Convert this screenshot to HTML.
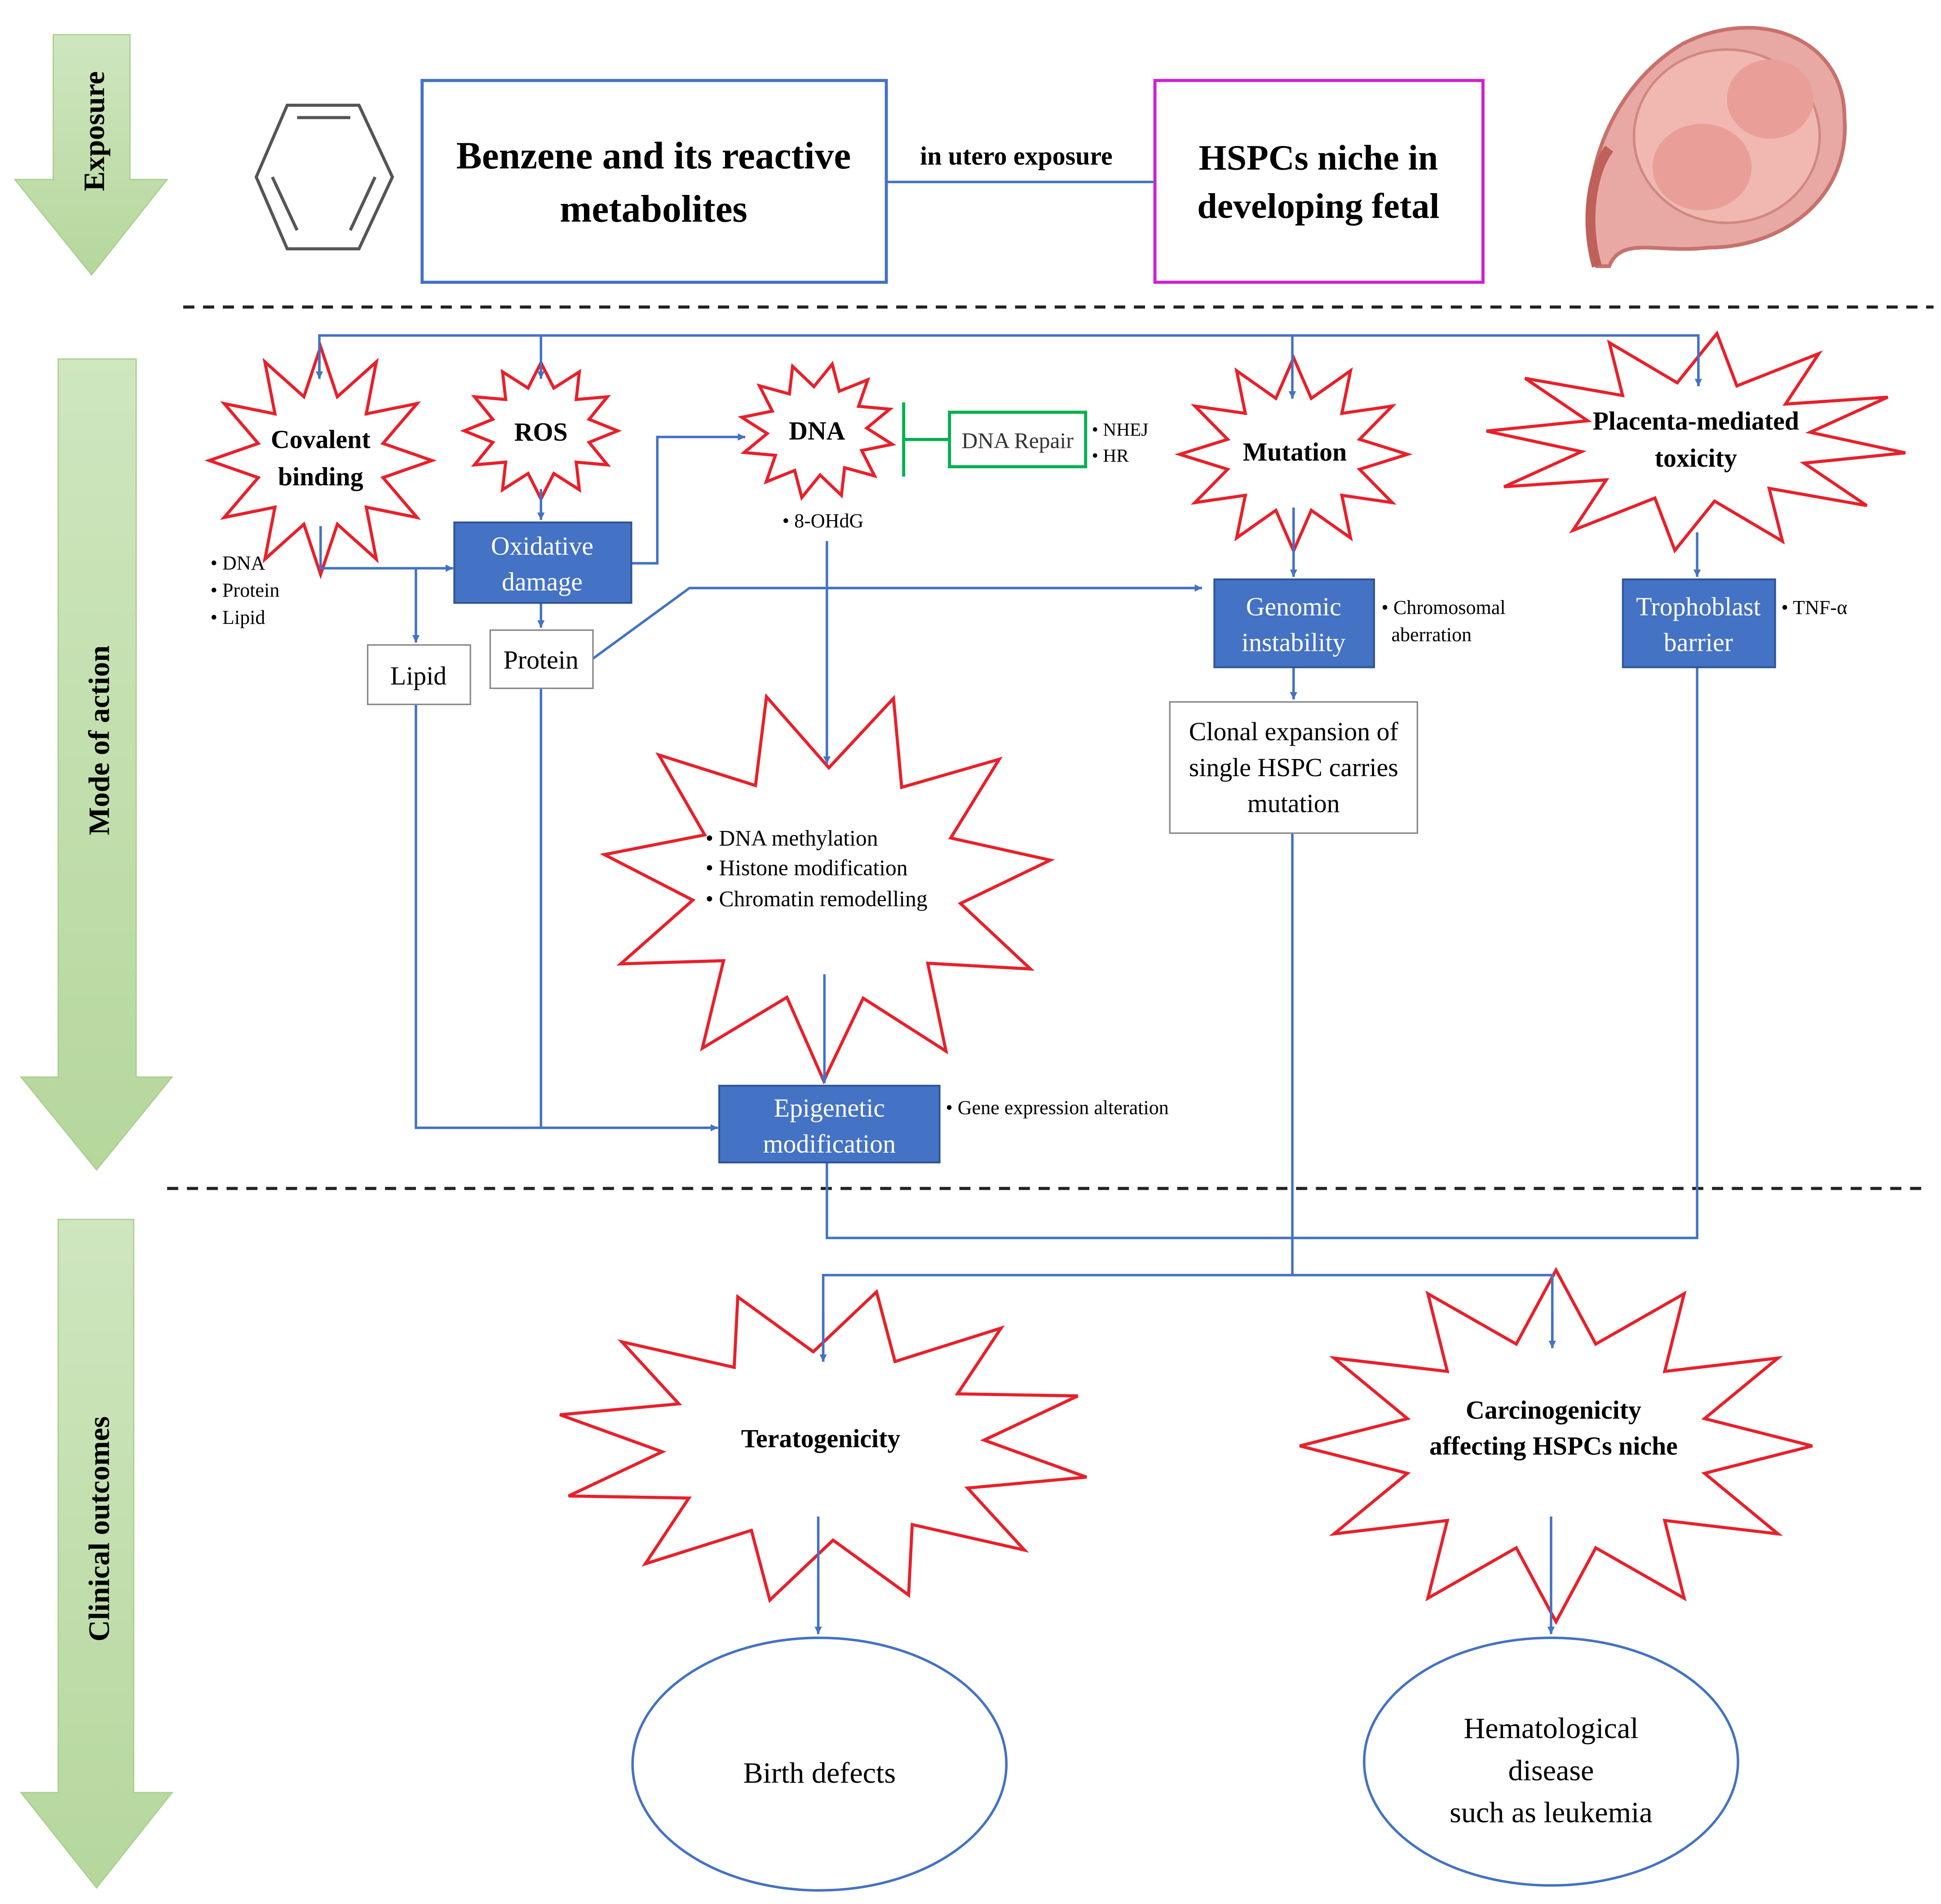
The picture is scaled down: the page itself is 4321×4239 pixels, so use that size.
<!DOCTYPE html>
<html><head><meta charset="utf-8">
<style>
html,body{margin:0;padding:0;background:#fff;}
svg{display:block;}
text{font-family:"Liberation Serif",serif;}
</style></head>
<body>
<svg id="s" width="4321" height="4239" viewBox="0 0 1568 1538" preserveAspectRatio="none" xmlns="http://www.w3.org/2000/svg">
<defs>
<linearGradient id="g" x1="0" y1="0" x2="0" y2="1">
<stop offset="0" stop-color="#cfe6bf"/><stop offset="1" stop-color="#b5d79c"/>
</linearGradient>
<marker id="a" markerWidth="8" markerHeight="8" refX="6" refY="3" orient="auto" markerUnits="userSpaceOnUse">
<path d="M0,0 L6,3 L0,6 z" fill="#4472c4"/></marker>
</defs>
<rect width="1568" height="1538" fill="#fff"/>
<polygon points="43,28 105,28 105,145 135,145 74,222 12,145 43,145" fill="url(#g)" stroke="#a9cf8f"/>
<polygon points="47,290 110,290 110,870 139,870 78,945 17,870 47,870" fill="url(#g)" stroke="#a9cf8f"/>
<polygon points="47,985 108,985 108,1448 139,1448 78,1525 17,1448 47,1448" fill="url(#g)" stroke="#a9cf8f"/>
<text transform="translate(84,106) rotate(-90)" text-anchor="middle" font-size="24" font-weight="bold">Exposure</text>
<text transform="translate(88,598) rotate(-90)" text-anchor="middle" font-size="24" font-weight="bold">Mode of action</text>
<text transform="translate(88,1235) rotate(-90)" text-anchor="middle" font-size="24" font-weight="bold">Clinical outcomes</text>
<g fill="none" stroke="#555" stroke-width="2.5">
<polygon points="232,85 290,85 317,143 290,201 232,201 207,143"/>
<line x1="240" y1="95" x2="283" y2="95"/>
<line x1="303" y1="143" x2="283" y2="186"/>
<line x1="220" y1="143" x2="240" y2="186"/>
</g>
<rect x="341" y="65" width="375" height="163" fill="none" stroke="#4472c4" stroke-width="2.5"/>
<text x="528" y="136" text-anchor="middle" font-size="31" font-weight="bold">Benzene and its reactive</text>
<text x="528" y="179" text-anchor="middle" font-size="31" font-weight="bold">metabolites</text>
<rect x="933" y="65" width="265" height="163" fill="none" stroke="#d020d0" stroke-width="2.5"/>
<text x="1065" y="137" text-anchor="middle" font-size="29" font-weight="bold">HSPCs niche in</text>
<text x="1065" y="176" text-anchor="middle" font-size="29" font-weight="bold">developing fetal</text>
<line x1="716" y1="147" x2="933" y2="147" stroke="#4472c4" stroke-width="2"/>
<text x="821" y="133" text-anchor="middle" font-size="21" font-weight="bold">in utero exposure</text>
<g>
<path d="M1290,215 C1270,150 1300,70 1360,35 C1420,5 1490,30 1490,95 C1495,160 1440,200 1380,200 C1340,205 1310,190 1300,215 Z" fill="#e8a9a4" stroke="#c8716c" stroke-width="3"/>
<ellipse cx="1395" cy="110" rx="75" ry="70" fill="#f0b8b0" stroke="#d08880" stroke-width="2"/>
<ellipse cx="1430" cy="80" rx="35" ry="32" fill="#e99f98"/>
<ellipse cx="1375" cy="135" rx="40" ry="35" fill="#e99f98"/>
<path d="M1290,215 C1280,180 1285,140 1300,120" stroke="#c0605a" stroke-width="8" fill="none"/>
</g>
<line x1="148" y1="248" x2="1562" y2="248" stroke="#222" stroke-width="2.5" stroke-dasharray="9,7"/>
<line x1="135" y1="960" x2="1552" y2="960" stroke="#222" stroke-width="2.5" stroke-dasharray="9,7"/>
<g id="stars" fill="#fff" stroke="#e8202a" stroke-width="2.5"></g>
<g stroke="#4472c4" stroke-width="2" fill="none">
<polyline points="258,305 258,271 1372,271 1372,312"/>
<line x1="258" y1="280" x2="258" y2="306" marker-end="url(#a)"/>
<line x1="437" y1="271" x2="437" y2="306" marker-end="url(#a)"/>
<line x1="1044" y1="271" x2="1044" y2="322" marker-end="url(#a)"/>
<line x1="1372" y1="280" x2="1372" y2="312" marker-end="url(#a)"/>
<polyline points="259,425 259,459 366,459" marker-end="url(#a)"/>
<line x1="437" y1="395" x2="437" y2="420" marker-end="url(#a)"/>
<polyline points="510,455 531,455 531,353 602,353" marker-end="url(#a)"/>
<line x1="437" y1="487" x2="437" y2="507" marker-end="url(#a)"/>
<line x1="336" y1="459" x2="336" y2="519" marker-end="url(#a)"/>
<polyline points="479,532 557,475 971,475" marker-end="url(#a)"/>
<line x1="668" y1="437" x2="668" y2="617" marker-end="url(#a)"/>
<line x1="666" y1="787" x2="666" y2="875" marker-end="url(#a)"/>
<polyline points="336,569 336,911 580,911" marker-end="url(#a)"/>
<line x1="437" y1="556" x2="437" y2="911"/>
<line x1="1045" y1="410" x2="1045" y2="466" marker-end="url(#a)"/>
<line x1="1045" y1="539" x2="1045" y2="565" marker-end="url(#a)"/>
<line x1="1044" y1="673" x2="1044" y2="1030"/>
<line x1="1371" y1="430" x2="1371" y2="466" marker-end="url(#a)"/>
<polyline points="1371,539 1371,1000 668,1000 668,939"/>
<polyline points="665,1099 665,1030 1254,1030 1254,1088"/>
<line x1="665" y1="1060" x2="665" y2="1100" marker-end="url(#a)"/>
<line x1="1254" y1="1060" x2="1254" y2="1089" marker-end="url(#a)"/>
<line x1="661" y1="1225" x2="661" y2="1320" marker-end="url(#a)"/>
<line x1="1253" y1="1225" x2="1253" y2="1320" marker-end="url(#a)"/>
</g>
<g stroke="#00b050" stroke-width="2.5" fill="none">
<line x1="730" y1="325" x2="730" y2="385"/>
<line x1="730" y1="355" x2="767" y2="355"/>
<rect x="767" y="333" width="110" height="44" fill="#fff"/>
</g>
<text x="822" y="362" text-anchor="middle" font-size="18" fill="#333">DNA Repair</text>
<text x="882" y="352" font-size="15">• NHEJ</text>
<text x="882" y="373" font-size="15">• HR</text>
<g fill="#4472c4" stroke="#2f5597" stroke-width="1.5">
<rect x="367" y="422" width="143" height="65"/>
<rect x="981" y="468" width="129" height="71"/>
<rect x="1311" y="468" width="123" height="71"/>
<rect x="581" y="877" width="178" height="62"/>
</g>
<g fill="#fff" font-size="21" text-anchor="middle">
<text x="438" y="448">Oxidative</text><text x="438" y="477">damage</text>
<text x="1045" y="497">Genomic</text><text x="1045" y="526">instability</text>
<text x="1372" y="497">Trophoblast</text><text x="1372" y="526">barrier</text>
<text x="670" y="902">Epigenetic</text><text x="670" y="931">modification</text>
</g>
<g fill="#fff" stroke="#888" stroke-width="1.2">
<rect x="297" y="521" width="83" height="48"/>
<rect x="396" y="509" width="83" height="47"/>
<rect x="945" y="567" width="200" height="106"/>
</g>
<g font-size="21" text-anchor="middle">
<text x="338" y="553">Lipid</text>
<text x="437" y="540">Protein</text>
<text x="1045" y="598">Clonal expansion of</text>
<text x="1045" y="627">single HSPC carries</text>
<text x="1045" y="656">mutation</text>
</g>
<g font-weight="bold" font-size="21" text-anchor="middle">
<text x="259" y="362">Covalent</text><text x="259" y="392">binding</text>
<text x="437" y="356">ROS</text>
<text x="660" y="355">DNA</text>
<text x="1046" y="372">Mutation</text>
<text x="1370" y="347">Placenta-mediated</text><text x="1370" y="377">toxicity</text>
<text x="663" y="1169">Teratogenicity</text>
<text x="1255" y="1146">Carcinogenicity</text><text x="1255" y="1175">affecting HSPCs niche</text>
</g>
<g font-size="16">
<text x="170" y="460">• DNA</text><text x="170" y="482">• Protein</text><text x="170" y="504">• Lipid</text>
<text x="632" y="426">• 8-OHdG</text>
<text x="1116" y="496">• Chromosomal</text><text x="1124" y="518">aberration</text>
<text x="1439" y="496">• TNF-α</text>
<text x="764" y="900">• Gene expression alteration</text>
</g>
<g font-size="18">
<text x="570" y="683">• DNA methylation</text>
<text x="570" y="707">• Histone modification</text>
<text x="570" y="732">• Chromatin remodelling</text>
</g>
<ellipse cx="662" cy="1425" rx="151" ry="102" fill="#fff" stroke="#4472c4" stroke-width="2"/>
<ellipse cx="1253" cy="1423" rx="151" ry="100" fill="#fff" stroke="#4472c4" stroke-width="2"/>
<g font-size="24" text-anchor="middle">
<text x="662" y="1440">Birth defects</text>
<text x="1253" y="1404">Hematological</text>
<text x="1253" y="1438">disease</text>
<text x="1253" y="1472">such as leukemia</text>
</g>
</svg>
<script>
(function(){
var stars=[
[259,372,90,92,12,0.58,0],
[437,348,62,55,12,0.65,0],
[660,348,62,55,12,0.65,0.2],
[1045,367,92,78,12,0.6,0],
[1370,357,170,88,12,0.55,0.1],
[668,715,182,158,11,0.6,0.3],
[665,1168,217,127,12,0.6,0.2],
[1257,1168,207,142,12,0.6,0]
];
var g=document.getElementById('stars');
var ns='http://www.w3.org/2000/svg';
stars.forEach(function(s){
var pts=[],n=s[4];
for(var i=0;i<2*n;i++){
var ang=-Math.PI/2+s[6]+i*Math.PI/n;
var r=(i%2==0)?1:s[5];
pts.push((s[0]+s[2]*r*Math.cos(ang)).toFixed(1)+','+(s[1]+s[3]*r*Math.sin(ang)).toFixed(1));
}
var p=document.createElementNS(ns,'polygon');
p.setAttribute('points',pts.join(' '));
g.appendChild(p);
});
var svg=document.getElementById('s');
svg.insertBefore(g, svg.querySelector('g[stroke="#4472c4"]'));
})();
</script>
</body></html>
